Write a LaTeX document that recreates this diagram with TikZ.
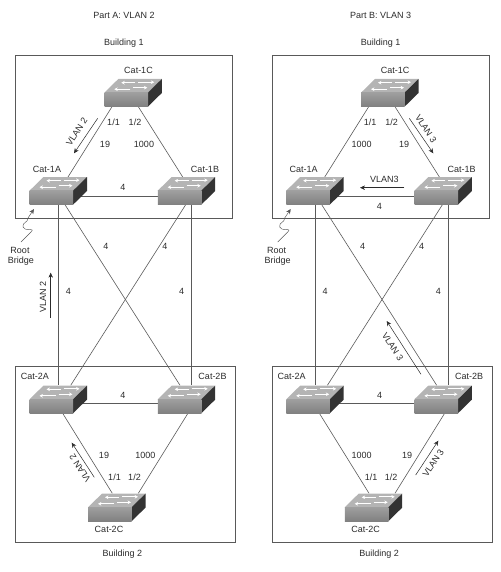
\documentclass[tikz,border=0pt]{standalone}
\usepackage{fontspec}
\setmainfont{Liberation Sans}
\usetikzlibrary{backgrounds,arrows.meta}
\definecolor{ink}{HTML}{2A2A2A}
\definecolor{wire}{HTML}{5A5A5A}
\definecolor{toptone}{HTML}{B4B4B4}
\definecolor{sidetone}{HTML}{333333}
\tikzset{
  lab/.style={text=ink,font=\fontsize{9}{10}\selectfont,inner sep=0pt,align=center},
  swface/.style={anchor=north west,minimum width=43.5pt,minimum height=14pt,inner sep=0pt,
    top color=black!38,bottom color=black!50,draw=none},
  bldg/.style={anchor=north west,draw=black!65,line width=0.7pt,inner sep=0pt},
  conn/.style={draw=wire,line width=0.6pt},
  flow/.style={draw=ink,line width=0.5pt,-{Stealth[length=5pt,width=4.5pt]}},
  swarrow/.style={white,line width=1pt,-{Stealth[length=3.4pt,width=3.6pt]}},
}
\newcommand{\catswitch}[3]{%
  \fill[toptone] (#2,#3) -- ++(43.5,0) -- ++(14,-13.7) -- ++(-43.5,0) -- cycle;
  \fill[sidetone] (#2+43.5,#3) -- ++(14,-13.7) -- ++(0,14) -- ++(-14,13.7) -- cycle;
  \node[swface] (#1) at (#2,#3) {};
  \begin{scope}[shift={(#2,#3)}]
    \draw[swarrow] (31,-10) -- (17,-10);
    \draw[swarrow] (34,-10.5) -- (50,-10.5);
    \draw[swarrow] (26,-3.5) -- (10,-3.5);
    \draw[swarrow] (29,-5) -- (43,-5);
  \end{scope}
}
\newcommand{\commonpart}{%
  \catswitch{s1c}{104.3}{92.7}
  \catswitch{s1a}{29.5}{190.7}
  \catswitch{s1b}{157.7}{190.7}
  \catswitch{s2a}{29.5}{399.3}
  \catswitch{s2b}{157.7}{399.3}
  \catswitch{s2c}{88}{507.3}
  \begin{pgfonlayer}{background}
    \draw[conn] ([xshift=7.7pt,yshift=-14pt]s1c.north west) -- ([xshift=38.5pt,yshift=13.7pt]s1a.north west);
    \draw[conn] ([xshift=34pt,yshift=-14pt]s1c.north west) -- ([xshift=25pt,yshift=13.7pt]s1b.north west);
    \draw[conn] ([yshift=-5.3pt]s1a.north east) -- ([yshift=-5.3pt]s1b.north west);
    \draw[conn] ([xshift=29.2pt,yshift=-14pt]s1a.north west) -- ([xshift=29.2pt,yshift=14pt]s2a.north west);
    \draw[conn] ([xshift=33.6pt,yshift=-14pt]s1b.north west) -- ([xshift=33.6pt,yshift=14pt]s2b.north west);
    \draw[conn] ([xshift=35.5pt,yshift=-14pt]s1a.north west) -- ([xshift=22.3pt,yshift=14pt]s2b.north west);
    \draw[conn] ([xshift=28pt,yshift=-14pt]s1b.north west) -- ([xshift=41.2pt,yshift=14pt]s2a.north west);
    \draw[conn] ([yshift=-4pt]s2a.north east) -- ([yshift=-4pt]s2b.north west);
    \draw[conn] ([xshift=32.8pt,yshift=-13.4pt]s2a.north west) -- ([xshift=24.3pt,yshift=14pt]s2c.north west);
    \draw[conn] ([xshift=30.6pt,yshift=-13.4pt]s2b.north west) -- ([xshift=50.3pt,yshift=14pt]s2c.north west);
  \end{pgfonlayer}
  \node[lab] (tb1) at (124,43) {Building 1};
  \node[lab] (t1c) at (138.5,70) {Cat-1C};
  \node[lab] (t1a) at (47,169) {Cat-1A};
  \node[lab] (t1b) at (205,169) {Cat-1B};
  \node[lab] (t11) at (113.5,122) {1/1};
  \node[lab] (t12) at (135,122) {1/2};
  \node[lab] (tx1) at (106,246) {4};
  \node[lab] (tx2) at (165,246) {4};
  \node[lab] (tv1) at (68.5,291.7) {4};
  \node[lab] (tv2) at (181.7,291.7) {4};
  \node[lab] (t2a) at (35,376.7) {Cat-2A};
  \node[lab] (t2b) at (212.5,376.7) {Cat-2B};
  \node[lab] (t4b) at (123,395) {4};
  \node[lab] (t21) at (114.5,477.3) {1/1};
  \node[lab] (t22) at (134.5,477.3) {1/2};
  \node[lab] (t2c) at (109,529.3) {Cat-2C};
  \node[lab] (tb2) at (122.5,554.3) {Building 2};
  \node[lab] (troot) at (20,250) {Root};
  \node[lab] (tbridge) at (21,261) {Bridge};
  \coordinate (rs) at (21,242);
  \coordinate (rt) at (34,209);
  \draw[draw=ink!80,line width=0.45pt,-{Stealth[length=5pt,width=4.5pt]}] (rs) -- (31,232)
     .. controls (36,227) and (24,232) .. (23,227)
     .. controls (22,222) and (28,223) .. (28,218) -- (rt);
}
\begin{document}
\begin{tikzpicture}[x=1pt,y=-1pt]
  \useasboundingbox (0,0) rectangle (500,572);
  \begin{pgfonlayer}{background}
    \node[bldg,minimum width=217pt,minimum height=162.4pt] (ra1) at (15.3,55.3) {};
    \node[bldg,minimum width=219.4pt,minimum height=176pt] (ra2) at (15.3,365.7) {};
    \node[bldg,minimum width=216.4pt,minimum height=162.4pt] (rb1) at (272.3,55.3) {};
    \node[bldg,minimum width=219.4pt,minimum height=176pt] (rb2) at (272.3,365.7) {};
  \end{pgfonlayer}

  % Part A
  \begin{scope}[name prefix=a-]
    \commonpart
    \node[lab] (title) at (124,15) {Part A: VLAN 2};
    \node[lab] (c19) at (105,144) {19};
    \node[lab] (c1000) at (144,144) {1000};
    \node[lab] (c4) at (123,187) {4};
    \node[lab] (d19) at (104,455) {19};
    \node[lab] (d1000) at (145.3,455) {1000};
    \node[lab,rotate=57] (v1) at (76.7,131.7) {VLAN 2};
    \coordinate (v1s) at (97.7,118.3); \coordinate (v1e) at (74,153.3);
    \draw[flow] (v1s) -- (v1e);
    \node[lab,rotate=90] (v2) at (43,297) {VLAN 2};
    \coordinate (v2s) at (50.7,318); \coordinate (v2e) at (50.7,272.7);
    \draw[flow] (v2s) -- (v2e);
    \node[lab,rotate=123] (v3) at (80,468.3) {VLAN 2};
    \coordinate (v3s) at (94.3,477.3); \coordinate (v3e) at (71.7,442.7);
    \draw[flow] (v3s) -- (v3e);
  \end{scope}

  % Part B
  \begin{scope}[shift={(256.7,0)},name prefix=b-]
    \commonpart
    \node[lab] (title) at (124,15) {Part B: VLAN 3};
    \node[lab] (c1000) at (105,144) {1000};
    \node[lab] (c19) at (147.3,144) {19};
    \node[lab] (c4) at (122.6,206.7) {4};
    \node[lab] (d1000) at (105,455) {1000};
    \node[lab] (d19) at (150.3,455) {19};
    \node[lab,rotate=-57] (v1) at (169.3,129) {VLAN 3};
    \coordinate (v1s) at (152.6,118.3); \coordinate (v1e) at (176.6,153.3);
    \draw[flow] (v1s) -- (v1e);
    \node[lab] (v2) at (127.6,179.3) {VLAN3};
    \coordinate (v2s) at (147.6,187.7); \coordinate (v2e) at (103.3,187.7);
    \draw[flow] (v2s) -- (v2e);
    \node[lab,rotate=-57] (v3) at (136,346.7) {VLAN 3};
    \coordinate (v3s) at (164.3,374.3); \coordinate (v3e) at (130,321);
    \draw[flow] (v3s) -- (v3e);
    \node[lab,rotate=57] (v4) at (176.6,463.3) {VLAN 3};
    \coordinate (v4s) at (159,475); \coordinate (v4e) at (181.6,440.7);
    \draw[flow] (v4s) -- (v4e);
  \end{scope}
\end{tikzpicture}
\end{document}
